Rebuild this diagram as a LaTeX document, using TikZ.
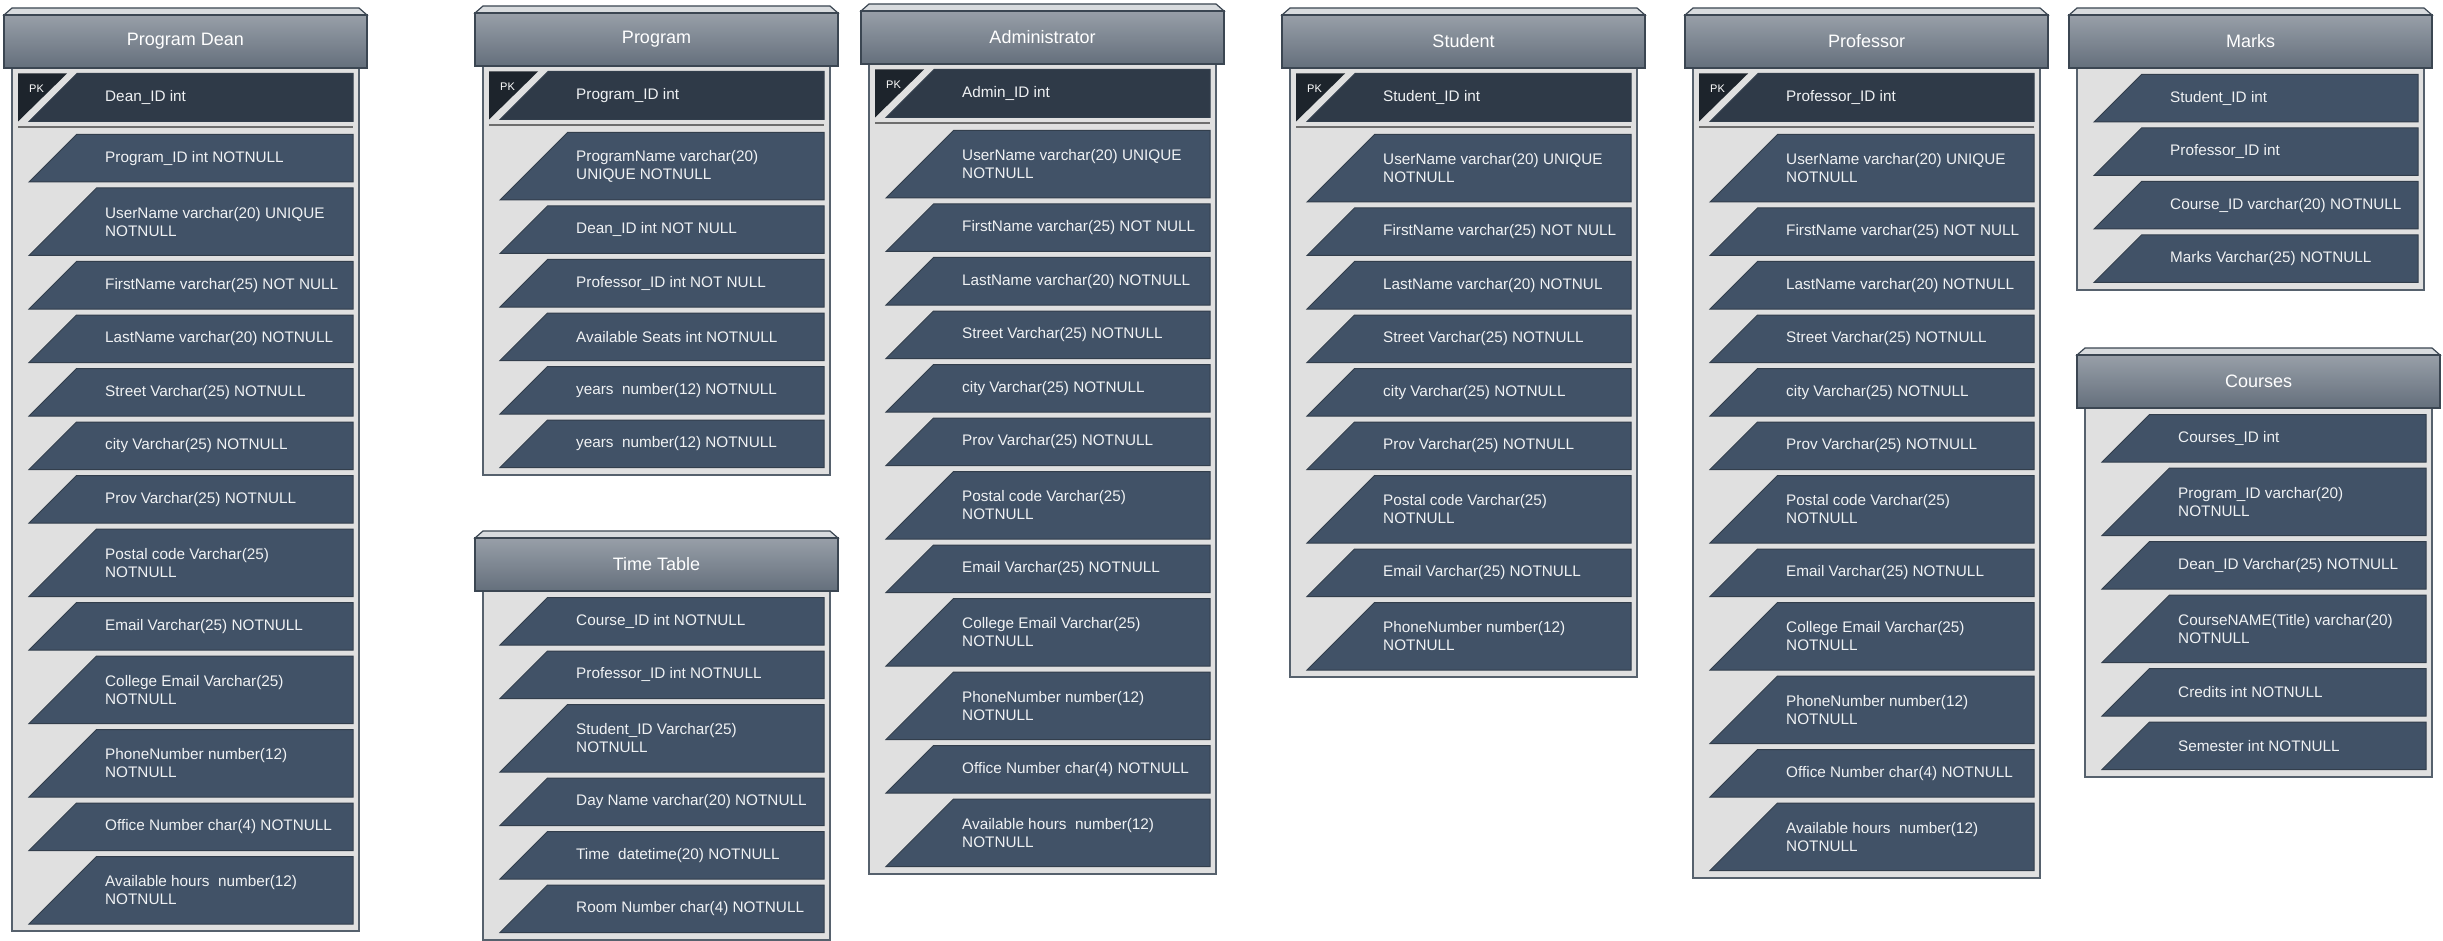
\documentclass[tikz,border=0pt]{standalone}
\usepackage{fontspec}
\setmainfont{Liberation Sans}
\pgfdeclarelayer{bg}
\pgfsetlayers{bg,main}

\definecolor{hdtop}{HTML}{989FA8}
\definecolor{hdbot}{HTML}{646F7C}
\definecolor{hdline}{HTML}{3B4652}
\definecolor{lidfill}{HTML}{D8DBDE}
\definecolor{bodyfill}{HTML}{E0E0E0}
\definecolor{bodyline}{HTML}{56616D}
\definecolor{rowfill}{HTML}{415267}
\definecolor{rowline}{HTML}{323E4C}
\definecolor{pkfill}{HTML}{2F3A48}
\definecolor{pktrifill}{HTML}{1D242C}
\definecolor{txtcol}{HTML}{F0F2F4}
\definecolor{sepcol}{HTML}{6E6E6E}

\tikzset{
  lid/.style={fill=lidfill, draw=hdline, line width=1.2pt},
  hdr/.style={top color=hdtop, bottom color=hdbot, draw=hdline, line width=1.5pt},
  ttl/.style={text=white, font=\fontsize{18}{20}\selectfont, inner sep=0pt},
  bodybox/.style={fill=bodyfill, draw=bodyline, line width=2pt},
  rowshape/.style={fill=rowfill, draw=rowline, line width=1pt},
  pkrowshape/.style={fill=pkfill, draw=rowline, line width=1pt},
  pktri/.style={fill=pktrifill},
  pklbl/.style={text=white, font=\fontsize{11}{12}\selectfont, inner sep=0pt, anchor=north west},
  rowtxt/.style={text=txtcol, font=\fontsize{15.3}{18}\selectfont, inner sep=0pt, anchor=west, align=left},
  sepline/.style={draw=sepcol, line width=2pt},
}

\newcounter{rowc}
% #1 id, #2 header left x, #3 header top y, #4 title
\newcommand\tstart[4]{%
  \xdef\tid{#1}\xdef\hx{#2}\xdef\yo{#3}%
  \setcounter{rowc}{0}%
  \pgfmathsetmacro\cy{#3+59.5}\xdef\cury{\cy}%
  \filldraw[lid] ({#2},{#3}) -- ({#2+8},{#3-7}) -- ({#2+355},{#3-7}) -- ({#2+363},{#3}) -- cycle;
  \path[hdr] ({#2},{#3}) rectangle ({#2+363},{#3+53});
  \node[ttl] (#1-title) at ({#2+181.5},{#3+26.5}) {#4};
}
\newcommand\tpk[1]{%
  \pgfmathsetmacro\ya{\yo+58.5}\pgfmathsetmacro\yb{\ya+48}%
  \fill[pktri] ({\hx+14},{\ya}) -- ({\hx+63},{\ya}) -- ({\hx+14},{\yb}) -- cycle;
  \filldraw[pkrowshape] ({\hx+25},{\yb}) -- ({\hx+73},{\ya}) -- ({\hx+349},{\ya}) -- ({\hx+349},{\yb}) -- cycle;
  \node[pklbl] (\tid-pklabel) at ({\hx+25},{\ya+11}) {PK};
  \node[rowtxt] (\tid-pk) at ({\hx+101},{\ya+24}) {#1};
  \draw[sepline] ({\hx+14},{\yb+5.5}) -- ({\hx+349},{\yb+5.5});
  \pgfmathsetmacro\cy{\yo+119.5}\xdef\cury{\cy}%
}
\newcommand\trow[2]{%
  \stepcounter{rowc}%
  \pgfmathsetmacro\ya{\cury}\pgfmathsetmacro\yb{\cury+#1}%
  \filldraw[rowshape] ({\hx+25},{\yb}) -- ({\hx+25+#1},{\ya}) -- ({\hx+349},{\ya}) -- ({\hx+349},{\yb}) -- cycle;
  \node[rowtxt] (\tid-r\therowc) at ({\hx+101},{(\ya+\yb)/2}) {#2};
  \pgfmathsetmacro\cy{\yb+6}\xdef\cury{\cy}%
}
\newcommand\trs[1]{\trow{47.5}{#1}}
\newcommand\trd[1]{\trow{67.5}{#1}}
\newcommand\tend{%
  \begin{pgfonlayer}{bg}
    \filldraw[bodybox] ({\hx+8},{\yo+53}) rectangle ({\hx+355},{\cury+1});
  \end{pgfonlayer}
}

\begin{document}
\begin{tikzpicture}[x=1pt,y=-1pt]
\useasboundingbox (0,0) rectangle (2443,941);
\begin{pgfonlayer}{bg}
  \fill[white] (0,0) rectangle (2443,941);
\end{pgfonlayer}

% Program Dean
\tstart{pd}{4}{15}{Program Dean}
\tpk{Dean\_ID int}
\trs{Program\_ID int NOTNULL}
\trd{UserName varchar(20) UNIQUE\\NOTNULL}
\trs{FirstName varchar(25) NOT NULL}
\trs{LastName varchar(20) NOTNULL}
\trs{Street Varchar(25) NOTNULL}
\trs{city Varchar(25) NOTNULL}
\trs{Prov Varchar(25) NOTNULL}
\trd{Postal code Varchar(25)\\NOTNULL}
\trs{Email Varchar(25) NOTNULL}
\trd{College Email Varchar(25)\\NOTNULL}
\trd{PhoneNumber number(12)\\NOTNULL}
\trs{Office Number char(4) NOTNULL}
\trd{Available hours\ \ number(12)\\NOTNULL}
\tend

% Program
\tstart{pg}{475}{13}{Program}
\tpk{Program\_ID int}
\trd{ProgramName varchar(20)\\UNIQUE NOTNULL}
\trs{Dean\_ID int NOT NULL}
\trs{Professor\_ID int NOT NULL}
\trs{Available Seats int NOTNULL}
\trs{years\ \ number(12) NOTNULL}
\trs{years\ \ number(12) NOTNULL}
\tend

% Time Table
\tstart{tt}{475}{538}{Time Table}
\trs{Course\_ID int NOTNULL}
\trs{Professor\_ID int NOTNULL}
\trd{Student\_ID Varchar(25)\\NOTNULL}
\trs{Day Name varchar(20) NOTNULL}
\trs{Time\ \ datetime(20) NOTNULL}
\trs{Room Number char(4) NOTNULL}
\tend

% Administrator
\tstart{ad}{861}{11}{Administrator}
\tpk{Admin\_ID int}
\trd{UserName varchar(20) UNIQUE\\NOTNULL}
\trs{FirstName varchar(25) NOT NULL}
\trs{LastName varchar(20) NOTNULL}
\trs{Street Varchar(25) NOTNULL}
\trs{city Varchar(25) NOTNULL}
\trs{Prov Varchar(25) NOTNULL}
\trd{Postal code Varchar(25)\\NOTNULL}
\trs{Email Varchar(25) NOTNULL}
\trd{College Email Varchar(25)\\NOTNULL}
\trd{PhoneNumber number(12)\\NOTNULL}
\trs{Office Number char(4) NOTNULL}
\trd{Available hours\ \ number(12)\\NOTNULL}
\tend

% Student
\tstart{st}{1282}{15}{Student}
\tpk{Student\_ID int}
\trd{UserName varchar(20) UNIQUE\\NOTNULL}
\trs{FirstName varchar(25) NOT NULL}
\trs{LastName varchar(20) NOTNUL}
\trs{Street Varchar(25) NOTNULL}
\trs{city Varchar(25) NOTNULL}
\trs{Prov Varchar(25) NOTNULL}
\trd{Postal code Varchar(25)\\NOTNULL}
\trs{Email Varchar(25) NOTNULL}
\trd{PhoneNumber number(12)\\NOTNULL}
\tend

% Professor
\tstart{pr}{1685}{15}{Professor}
\tpk{Professor\_ID int}
\trd{UserName varchar(20) UNIQUE\\NOTNULL}
\trs{FirstName varchar(25) NOT NULL}
\trs{LastName varchar(20) NOTNULL}
\trs{Street Varchar(25) NOTNULL}
\trs{city Varchar(25) NOTNULL}
\trs{Prov Varchar(25) NOTNULL}
\trd{Postal code Varchar(25)\\NOTNULL}
\trs{Email Varchar(25) NOTNULL}
\trd{College Email Varchar(25)\\NOTNULL}
\trd{PhoneNumber number(12)\\NOTNULL}
\trs{Office Number char(4) NOTNULL}
\trd{Available hours\ \ number(12)\\NOTNULL}
\tend

% Marks
\tstart{mk}{2069}{15}{Marks}
\trs{Student\_ID int}
\trs{Professor\_ID int}
\trs{Course\_ID varchar(20) NOTNULL}
\trs{Marks Varchar(25) NOTNULL}
\tend

% Courses
\tstart{cs}{2077}{355}{Courses}
\trs{Courses\_ID int}
\trd{Program\_ID varchar(20)\\NOTNULL}
\trs{Dean\_ID Varchar(25) NOTNULL}
\trd{CourseNAME(Title) varchar(20)\\NOTNULL}
\trs{Credits int NOTNULL}
\trs{Semester int NOTNULL}
\tend

\end{tikzpicture}
\end{document}
